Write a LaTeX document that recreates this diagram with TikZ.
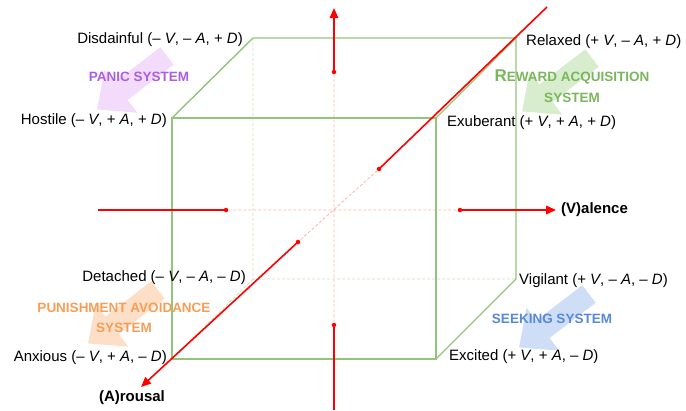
\documentclass[tikz,border=0pt]{standalone}
\usepackage{fontspec}
\setmainfont{Liberation Sans}
\usetikzlibrary{arrows.meta}
\definecolor{edgegreen}{RGB}{147,196,125}
\definecolor{panictext}{RGB}{170,94,230}\definecolor{panicfill}{RGB}{243,220,251}
\definecolor{rewardtext}{RGB}{122,182,92}\definecolor{rewardfill}{RGB}{216,236,206}
\definecolor{punishtext}{RGB}{246,158,88}\definecolor{punishfill}{RGB}{252,223,198}
\definecolor{seektext}{RGB}{88,136,218}\definecolor{seekfill}{RGB}{206,222,247}
% fat arrow of a system, tail at #1, pointing down-left
\newcommand\sysarrow[2]{\fill[#2,shift={(#1)},rotate=217.4] (0,-11)--(58,-11)--(58,-27)--(88,0)--(58,27)--(58,11)--(0,11)--cycle;}
\begin{document}
\begin{tikzpicture}[x=1pt,y=-1pt,>={Triangle[length=10pt,width=8.5pt]},
  edge/.style={edgegreen,line width=1.4pt},
  hidden/.style={edgegreen!50,line width=.8pt,dash pattern=on 3pt off 2pt},
  axis/.style={red,line width=1.6pt},
  faint/.style={red!30,line width=.8pt,dash pattern=on 3pt off 2pt},
  dot/.style={circle,fill=red,inner sep=0,minimum size=4.5pt},
  lbl/.style={font=\fontsize{15}{17}\selectfont,inner sep=0},
  axlbl/.style={font=\fontsize{15}{17}\selectfont\bfseries,inner sep=0},
  sys/.style={font=\fontsize{13.5}{20.5}\selectfont\bfseries,inner sep=0,align=center}]
\useasboundingbox (0,0) rectangle (686,410);
% systems
\sysarrow{167,56}{panicfill}\sysarrow{592,58}{rewardfill}
\sysarrow{158,290}{punishfill}\sysarrow{589,294}{seekfill}
% cube corners
\coordinate (ftl) at (172,118);\coordinate (ftr) at (436,118);\coordinate (fbl) at (172,359);\coordinate (fbr) at (436,359);
\coordinate (btl) at (253,38);\coordinate (btr) at (516,38);\coordinate (bbl) at (253,279);\coordinate (bbr) at (516,279);
\draw[hidden] (btl)--(bbl)--(bbr) (bbl)--(fbl);
% axes
\node[dot] (vd1) at (334,72) {};\node[dot] (vd2) at (334,325) {};
\node[dot] (hd1) at (226,210) {};\node[dot] (hd2) at (460,210) {};
\node[dot] (ad1) at (379,169) {};\node[dot] (ad2) at (298,242) {};
\coordinate (vtop) at (334,8);\coordinate (vbot) at (334,410);
\coordinate (hleft) at (98,210);\coordinate (hright) at (556,210);
\coordinate (atop) at (547,7);\coordinate (aend) at (141,387);
\draw[faint] (vd1)--(vd2) (hd1)--(hd2) (ad1)--(ad2);
\draw[edge] (ftl) rectangle (fbr);
\draw[edge] (ftl)--(btl)--(btr)--(ftr) (btr)--(bbr)--(fbr);
\draw[axis,->] (vd1.center)--(vtop);\draw[axis] (vd2.center)--(vbot);
\draw[axis] (hleft)--(hd1.center);\draw[axis,->] (hd2.center)--(hright);
\draw[axis] (atop)--(ad1.center);\draw[axis,->] (ad2.center)--(aend);
\node[axlbl,anchor=west] (valence) at (561,210) {(V)alence};
\node[axlbl] (arousal) at (132,398) {(A)rousal};
% corner labels
\node[lbl,anchor=east] (disdainful) at (243,40) {Disdainful (– \textit{V}, – \textit{A}, + \textit{D})};
\node[lbl,anchor=east] (hostile) at (167,121) {Hostile (– \textit{V}, + \textit{A}, + \textit{D})};
\node[lbl,anchor=west] (relaxed) at (526,42) {Relaxed (+ \textit{V}, – \textit{A}, + \textit{D})};
\node[lbl,anchor=west] (exuberant) at (447,123) {Exuberant (+ \textit{V}, + \textit{A}, + \textit{D})};
\node[lbl,anchor=east] (detached) at (246,278) {Detached (– \textit{V}, – \textit{A}, – \textit{D})};
\node[lbl,anchor=east] (anxious) at (167,358) {Anxious (– \textit{V}, + \textit{A}, – \textit{D})};
\node[lbl,anchor=west] (vigilant) at (519,281) {Vigilant (+ \textit{V}, – \textit{A}, – \textit{D})};
\node[lbl,anchor=west] (excited) at (449,357) {Excited (+ \textit{V}, + \textit{A}, – \textit{D})};
% system names
\node[sys,panictext] (panic) at (139,77) {PANIC SYSTEM};
\node[sys,rewardtext] (reward) at (572,86) {{\fontsize{17}{20.5}\selectfont R}EWARD ACQUISITION\\SYSTEM};
\node[sys,punishtext] (punish) at (124,318) {PUNISHMENT AVOIDANCE\\SYSTEM};
\node[sys,seektext] (seeking) at (552,319) {SEEKING SYSTEM};
\end{tikzpicture}
\end{document}
